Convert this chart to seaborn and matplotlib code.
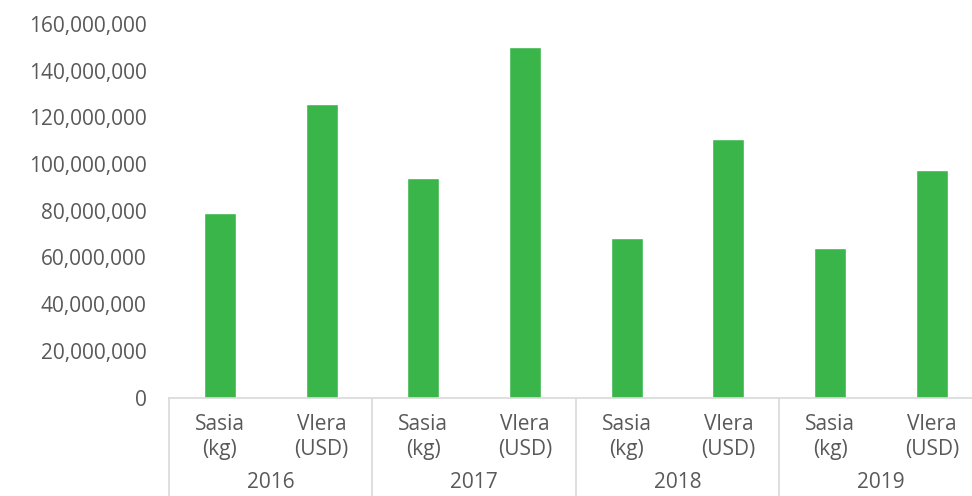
import matplotlib
matplotlib.use("Agg")
import matplotlib.pyplot as plt
import seaborn as sns
import pandas as pd
from matplotlib.ticker import FuncFormatter

years = ["2016", "2017", "2018", "2019"]
measures = ["Sasia\n(kg)", "Vlera\n(USD)"]
values = [79000000, 125700000, 94000000, 150200000,
          68200000, 110700000, 64000000, 97400000]
yticks = [0, 20000000, 40000000, 60000000, 80000000, 100000000, 120000000, 140000000, 160000000]

labels = [f"{y}|{m}" for y in years for m in measures]
df = pd.DataFrame({"cat": labels, "value": values})

sns.set_theme(style="white")
plt.rcParams['font.family'] = ['Open Sans', 'DejaVu Sans']

FS = 15
fig = plt.figure(figsize=(9.72, 4.96), dpi=100)
ax = fig.add_axes([169/972, (496-397.5)/496, 813.6/972, (397.5-24)/496])

sns.barplot(data=df, x="cat", y="value", color="#3AB54A", saturation=1,
            width=0.315, ax=ax)

ax.set_ylim(0, 160000000)
ax.set_xlim(-0.5, len(labels)-0.5)
ax.set_yticks(yticks)
ax.yaxis.set_major_formatter(FuncFormatter(lambda v, p: f"{int(v):,}"))
ax.tick_params(axis="y", length=0, pad=16, labelsize=FS, labelcolor="#595959")
ax.set_xticks([])
ax.set_xlabel("")
ax.set_ylabel("")
for s in ["left", "right", "top"]:
    ax.spines[s].set_visible(False)
ax.spines["bottom"].set_color("#d9d9d9")
ax.spines["bottom"].set_linewidth(1.2)

trans = ax.get_xaxis_transform()
axh_px = 397.5 - 24
def ypx(px):
    return -px / axh_px

for i, lab in enumerate(labels):
    yr, m = lab.split("|")
    ax.text(i, ypx(39), m, transform=trans, ha="center", va="center",
            fontsize=FS, color="#595959", linespacing=1.25)
for j, yr in enumerate(years):
    ax.text(2*j + 0.5, ypx(85), yr, transform=trans, ha="center", va="center",
            fontsize=FS, color="#595959")
for k in range(len(years) + 1):
    xk = 2*k - 0.5
    ax.plot([xk, xk], [0, ypx(110)], transform=trans, color="#d9d9d9",
            lw=1.2, clip_on=False)

fig.savefig("out.png", dpi=100)
